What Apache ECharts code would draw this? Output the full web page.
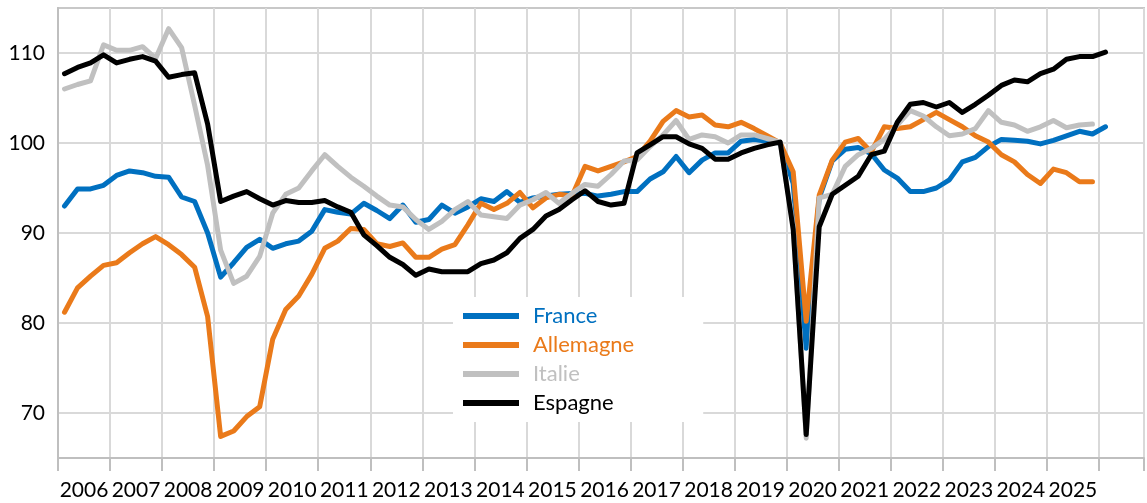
<!DOCTYPE html>
<html>
<head>
<meta charset="utf-8">
<title>Production</title>
<script src="https://cdn.jsdelivr.net/npm/echarts@6/dist/echarts.min.js"></script>
<style>
    html, body { margin: 0; padding: 0; background: #fff; }
    #chart { width: 1147px; height: 503px; }
</style>
</head>
<body>
<div id="chart"></div>
<script>
// libellés de l'axe des abscisses (une étiquette par année)
var years = ['2006', '2007', '2008', '2009', '2010', '2011', '2012', '2013', '2014', '2015',
    '2016', '2017', '2018', '2019', '2020', '2021', '2022', '2023', '2024', '2025'];
// graduations de l'axe des ordonnées
var yTicks = [70, 80, 90, 100, 110];

// trimestres : 2006T1 ... 2026T1
var quarters = [];
years.concat(['2026']).forEach(function (y) {
    ['T1', 'T2', 'T3', 'T4'].forEach(function (q) { quarters.push(y + q); });
});
quarters = quarters.slice(0, 81);

var france = [93.0, 94.9, 94.9, 95.3, 96.4, 96.9, 96.7, 96.3, 96.2, 94.0,
    93.5, 90.0, 85.1, 86.7, 88.4, 89.3, 88.3, 88.8, 89.1, 90.2,
    92.6, 92.3, 92.1, 93.3, 92.5, 91.6, 93.1, 91.2, 91.5, 93.1,
    92.2, 92.9, 93.8, 93.5, 94.6, 93.4, 93.9, 94.1, 94.3, 94.4,
    94.4, 94.1, 94.3, 94.6, 94.6, 96.0, 96.8, 98.5, 96.7, 98.1,
    98.9, 98.9, 100.2, 100.4, 100.2, 100.0, 95.5, 77.2, 93.9, 98.0,
    99.3, 99.5, 98.8, 97.0, 96.1, 94.6, 94.6, 95.0, 95.9, 97.9,
    98.4, 99.6, 100.4, 100.3, 100.2, 99.9, 100.3, 100.8, 101.3, 101.0,
    101.8];
var allemagne = [81.2, 83.9, 85.2, 86.4, 86.7, 87.8, 88.8, 89.6, 88.7, 87.6,
    86.2, 80.7, 67.4, 68.0, 69.6, 70.7, 78.2, 81.5, 83.0, 85.4,
    88.3, 89.1, 90.5, 90.4, 88.8, 88.5, 88.9, 87.3, 87.3, 88.2,
    88.7, 90.9, 93.3, 92.6, 93.3, 94.5, 92.8, 93.9, 94.3, 94.1,
    97.4, 96.9, 97.4, 97.9, 98.5, 100.2, 102.4, 103.6, 102.9, 103.1,
    102.0, 101.8, 102.3, 101.6, 100.8, 100.0, 96.8, 80.2, 94.2, 98.1,
    100.1, 100.5, 99.0, 101.8, 101.6, 101.8, 102.6, 103.4, 102.6, 101.8,
    100.8, 100.1, 98.7, 97.9, 96.5, 95.5, 97.1, 96.7, 95.7, 95.7,
    null];
var italie = [106.0, 106.5, 106.9, 110.9, 110.3, 110.3, 110.7, 109.4, 112.7, 110.6,
    104.2, 97.5, 88.1, 84.4, 85.2, 87.4, 92.2, 94.3, 95.0, 96.9,
    98.7, 97.4, 96.2, 95.2, 94.1, 93.1, 92.9, 91.5, 90.4, 91.3,
    92.6, 93.5, 92.0, 91.8, 91.6, 93.1, 93.7, 94.5, 93.3, 94.4,
    95.4, 95.2, 96.5, 98.0, 98.1, 99.6, 100.9, 102.5, 100.4, 100.9,
    100.7, 100.0, 100.9, 100.9, 100.5, 100.1, 90.8, 67.2, 93.9, 94.3,
    97.4, 98.7, 99.4, 100.4, 102.0, 103.6, 103.0, 101.8, 100.8, 101.0,
    101.6, 103.6, 102.3, 102.0, 101.3, 101.8, 102.5, 101.7, 102.0, 102.1,
    null];
var espagne = [107.7, 108.4, 108.9, 109.8, 108.9, 109.3, 109.6, 109.1, 107.3, 107.6,
    107.8, 102.1, 93.5, 94.1, 94.6, 93.8, 93.1, 93.6, 93.4, 93.4,
    93.6, 92.9, 92.3, 89.8, 88.6, 87.3, 86.5, 85.3, 86.0, 85.7,
    85.7, 85.7, 86.6, 87.0, 87.8, 89.4, 90.4, 91.9, 92.6, 93.7,
    94.7, 93.5, 93.1, 93.3, 98.9, 99.8, 100.7, 100.7, 99.9, 99.4,
    98.2, 98.2, 98.9, 99.4, 99.8, 100.1, 90.4, 67.6, 90.7, 94.3,
    95.3, 96.3, 98.7, 99.1, 102.3, 104.3, 104.5, 104.0, 104.5, 103.4,
    104.3, 105.3, 106.4, 107.0, 106.8, 107.7, 108.2, 109.3, 109.6, 109.6,
    110.1];

var names = ['France', 'Allemagne', 'Italie', 'Espagne'];
var colors = ['#0070c0', '#ea7a1a', '#c0c0c0', '#000000'];
var values = [france, allemagne, italie, espagne];

// chaque trimestre est placé au milieu de sa case (index + 0.5)
function toPoints(arr) {
    return arr.map(function (v, i) { return [i + 0.5, v]; });
}

var myChart = echarts.init(document.getElementById('chart'));
var font = 'Lato, "Noto Sans", sans-serif';

var option = {
    animation: false,
    grid: {
        left: 58, right: 2, top: 8, bottom: 45,
        show: true, borderColor: '#c8c8c8', borderWidth: 2
    },
    legend: {
        orient: 'vertical',
        left: 453, top: 297,
        padding: [8, 69, 8, 10],
        backgroundColor: '#fff',
        icon: 'rect',
        itemWidth: 56, itemHeight: 6, itemGap: 7,
        textStyle: { fontFamily: font, fontSize: 22, lineHeight: 22, padding: [0, 0, 0, 9] },
        data: names.map(function (n, k) {
            return { name: n, textStyle: { color: colors[k] } };
        })
    },
    xAxis: {
        type: 'value',
        min: 0, max: 83.46, interval: 4,
        axisLine: { show: true, onZero: false, lineStyle: { color: '#bfbfbf', width: 2 } },
        axisTick: { show: true, length: 13, lineStyle: { color: '#bfbfbf', width: 2 } },
        splitLine: { show: true, lineStyle: { color: '#d9d9d9', width: 2 } },
        axisLabel: {
            fontFamily: font, fontSize: 21, color: '#000',
            margin: 22,
            padding: [0, 0, 0, 52],
            formatter: function (v) {
                var k = v / 4;
                return (k % 1 === 0 && k < years.length) ? years[k] : '';
            }
        }
    },
    yAxis: {
        type: 'value',
        min: 65, max: 115, interval: 5,
        axisLine: { show: true, onZero: false, lineStyle: { color: '#bfbfbf', width: 2 } },
        axisTick: { show: false },
        splitLine: { show: true, lineStyle: { color: ['rgba(0,0,0,0)', '#d9d9d9'], width: 2 } },
        axisLabel: {
            fontFamily: font, fontSize: 21, color: '#000',
            margin: 13,
            formatter: function (v) {
                return yTicks.indexOf(v) >= 0 ? String(v) : '';
            }
        }
    },
    series: names.map(function (n, k) {
        return {
            name: n,
            type: 'line',
            color: colors[k],
            symbol: 'none',
            showSymbol: false,
            lineStyle: { width: 5, color: colors[k], cap: 'round', join: 'round' },
            data: toPoints(values[k])
        };
    })
};

myChart.setOption(option);
</script>
</body>
</html>
